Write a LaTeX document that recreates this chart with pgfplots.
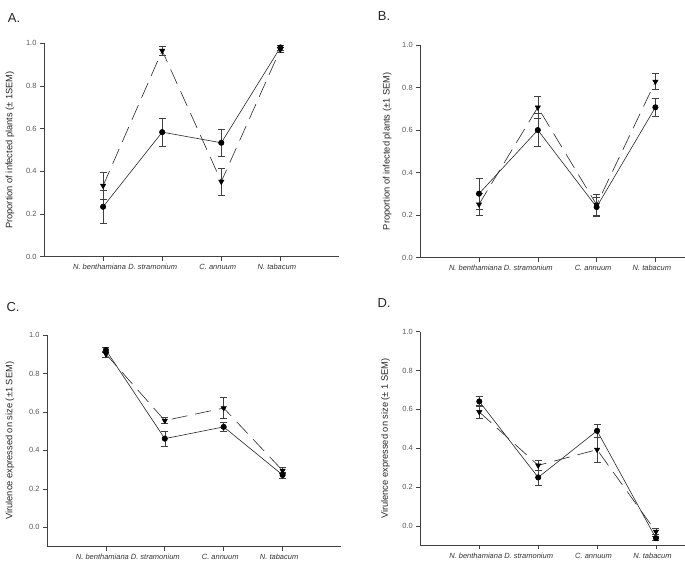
\documentclass[border=0pt]{standalone}
\usepackage{fontspec}
\setmainfont{Liberation Sans}
\usepackage{pgfplots}
\pgfplotsset{compat=1.18}

\pgfplotsset{
  panel/.style={
    scale only axis,
    clip=false,
    axis lines=left,
    axis line style={-, black!75, line width=0.6pt},
    tick align=outside,
    major tick length=4pt,
    tick style={black!75, line width=0.6pt},
    xmin=-1,
    xtick={0,1,2,3},
    xticklabels={N. benthamiana, {D. stramonium\rule{12pt}{0pt}}, C. annuum, N. tabacum},
    xticklabel style={font=\fontsize{7.5}{9}\selectfont\itshape, text=black!80, xshift=-3.5pt},
    ytick={0,0.2,0.4,0.6,0.8,1},
    yticklabel style={font=\fontsize{7.5}{9}\selectfont, text=black!65,
      /pgf/number format/.cd, fixed, fixed zerofill, precision=1, assume math mode=true},
    ylabel style={font=\fontsize{9.3}{11}\selectfont, text=black!85, anchor=center},
  },
  circ/.style={black!85, line width=0.6pt, solid, mark=*, mark size=2.7pt,
    mark options={solid, fill=black, draw=black},
    error bars/y dir=both, error bars/y explicit,
    error bars/error bar style={black!75, line width=0.5pt, solid},
    error bars/error mark options={rotate=90, black!75, mark size=3.5pt, line width=0.5pt}},
  tri/.style={black!85, line width=0.6pt, dash pattern=on 16pt off 8pt, mark=triangle*, mark size=3pt,
    mark options={solid, rotate=180, fill=black, draw=black},
    error bars/y dir=both, error bars/y explicit,
    error bars/error bar style={black!75, line width=0.5pt, solid},
    error bars/error mark options={rotate=90, black!75, mark size=3.5pt, line width=0.5pt}},
}

\begin{document}
\begin{tikzpicture}
\path[use as bounding box] (0pt,0pt) rectangle (685pt,573pt);

% A
\begin{axis}[panel, at={(44pt,316.3pt)}, anchor=south west, width=295.5pt, height=213.3pt,
  xmax=4, ymin=0, ymax=1,
  ylabel={Proportion of infected plants (\textpm{} 1SEM)},
  ylabel style={at={(axis description cs:-0.115,0.5)}}]
\addplot[circ] coordinates {(0,0.234) +- (0,0.077) (1,0.584) +- (0,0.064) (2,0.534) +- (0,0.064) (3,0.981) +- (0,0.012)};
\addplot[tri] coordinates {(0,0.333) +- (0,0.065) (1,0.966) +- (0,0.022) (2,0.352) +- (0,0.062) (3,0.972) +- (0,0.012)};
\end{axis}

% B
\begin{axis}[panel, at={(420.2pt,315.3pt)}, anchor=south west, width=264.6pt, height=212.7pt,
  xmax=3.5, ymin=0, ymax=1,
  ylabel={Proportion of infected plants (\textpm1 SEM)},
  ylabel style={at={(axis description cs:-0.125,0.5)}}]
\addplot[circ] coordinates {(0,0.301) +- (0,0.073) (1,0.600) +- (0,0.078) (2,0.238) +- (0,0.045) (3,0.707) +- (0,0.042)};
\addplot[tri] coordinates {(0,0.251) +- (0,0.050) (1,0.707) +- (0,0.052) (2,0.249) +- (0,0.050) (3,0.828) +- (0,0.037)};
\end{axis}

% C
\begin{axis}[panel, at={(47pt,26.5pt)}, anchor=south west, width=294.5pt, height=211.5pt,
  xmax=4, ymin=-0.1, ymax=1,
  ylabel={Virulence expressed on size (\textpm1 SEM)},
  ylabel style={at={(axis description cs:-0.126,0.5)}}]
\addplot[circ] coordinates {(0,0.922) +- (0,0.013) (1,0.461) +- (0,0.038) (2,0.522) +- (0,0.024) (3,0.272) +- (0,0.015)};
\addplot[tri] coordinates {(0,0.901) +- (0,0.015) (1,0.555) +- (0,0.015) (2,0.620) +- (0,0.055) (3,0.295) +- (0,0.015)};
\end{axis}

% D
\begin{axis}[panel, at={(420.4pt,27.6pt)}, anchor=south west, width=265pt, height=213.7pt,
  xmax=3.5, ymin=-0.1, ymax=1,
  ylabel={Virulence expressed on size (\textpm{} 1 SEM)},
  ylabel style={at={(axis description cs:-0.132,0.5)}}]
\addplot[circ] coordinates {(0,0.641) +- (0,0.025) (1,0.250) +- (0,0.038) (2,0.490) +- (0,0.032) (3,-0.063) +- (0,0.010)};
\addplot[tri] coordinates {(0,0.587) +- (0,0.035) (1,0.312) +- (0,0.025) (2,0.393) +- (0,0.063) (3,-0.029) +- (0,0.015)};
\end{axis}

\node[font=\fontsize{13}{15}\selectfont, text=black!85] at (14pt,555pt) {A.};
\node[font=\fontsize{13}{15}\selectfont, text=black!85] at (384pt,557pt) {B.};
\node[font=\fontsize{13}{15}\selectfont, text=black!85] at (13pt,266pt) {C.};
\node[font=\fontsize{13}{15}\selectfont, text=black!85] at (384pt,270pt) {D.};
\end{tikzpicture}
\end{document}
